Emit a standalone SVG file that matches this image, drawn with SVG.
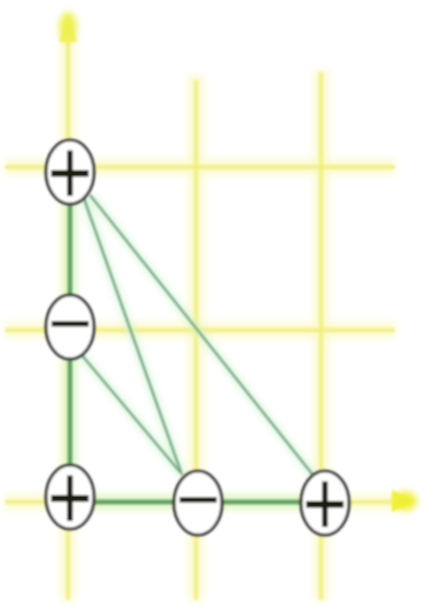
<svg xmlns="http://www.w3.org/2000/svg" width="433" height="610" viewBox="0 0 433 610">
<defs>
<style>
.grid{stroke:#f0ec70;stroke-width:4.5;fill:none;opacity:0.7}
.glow{stroke:#fbf9c4;stroke-width:16;fill:none;opacity:0.75}
.thick{stroke:#63a066;stroke-width:4.5;fill:none}
.thickglow{stroke:#c8f5c8;stroke-width:12;fill:none;opacity:0.7}
.thin{stroke:#78a886;stroke-width:2.5;fill:none}
.thinglow{stroke:#d2f5d2;stroke-width:8;fill:none;opacity:0.7}
.node ellipse{fill:#ffffff;stroke:#3a3a3a;stroke-width:3.2}
.node text{font-family:"Liberation Sans",Arial,sans-serif;font-size:76px;fill:#1a1a10;text-anchor:middle}
.node text.p{font-size:64px}
</style>
<filter id="soft" x="-20%" y="-20%" width="140%" height="140%"><feGaussianBlur stdDeviation="1.3"/></filter>
<filter id="softer" x="-20%" y="-20%" width="140%" height="140%"><feGaussianBlur stdDeviation="3.5"/></filter>
</defs>
<rect width="433" height="610" fill="#ffffff"/>
<g id="grid">
<g filter="url(#softer)">
<line class="glow" x1="68" y1="15" x2="68" y2="600"/>
<line class="glow" x1="196" y1="75" x2="196" y2="600"/>
<line class="glow" x1="321" y1="70" x2="321" y2="600"/>
<line class="glow" x1="5" y1="167" x2="395" y2="167"/>
<line class="glow" x1="5" y1="330" x2="395" y2="330"/>
<line class="glow" x1="5" y1="502" x2="410" y2="502"/>
<ellipse cx="405" cy="501" rx="12" ry="10" fill="#f0f040"/>
<ellipse cx="68" cy="27" rx="9" ry="15" fill="#eef050"/>
</g>
<g filter="url(#soft)">
<line class="grid" x1="68" y1="40" x2="68" y2="600"/>
<line class="grid" x1="196" y1="80" x2="196" y2="600"/>
<line class="grid" x1="321" y1="72" x2="321" y2="600"/>
<line class="grid" x1="5" y1="167" x2="395" y2="167"/>
<line class="grid" x1="5" y1="330" x2="395" y2="330"/>
<line class="grid" x1="5" y1="502" x2="392" y2="502"/>
<path d="M68,14 L59,42 L77,42 z" fill="#eef050" opacity="0.85"/>
<path d="M414,501 L392,490 L392,512 z" fill="#eef030" opacity="0.9"/>
</g>
</g>
<g id="connectors">
<g filter="url(#softer)">
<line class="thickglow" x1="70" y1="172" x2="70" y2="497"/>
<line class="thickglow" x1="70" y1="502" x2="325" y2="502"/>
<line class="thinglow" x1="82" y1="193" x2="182" y2="475"/>
<line class="thinglow" x1="90" y1="195" x2="313" y2="475"/>
<line class="thinglow" x1="80" y1="353" x2="180" y2="472"/>
</g>
<g filter="url(#soft)">
<line class="thick" x1="70" y1="172" x2="70" y2="497"/>
<line class="thick" x1="70" y1="502" x2="325" y2="502"/>
<line class="thin" x1="82" y1="193" x2="182" y2="475"/>
<line class="thin" x1="90" y1="195" x2="313" y2="475"/>
<line class="thin" x1="80" y1="353" x2="180" y2="472"/>
</g>
</g>
<g id="n1" class="node" filter="url(#soft)">
<ellipse cx="70" cy="172" rx="24" ry="32"/>
<text class="p" transform="translate(70,172) scale(1.2,1.45)" y="22">+</text>
</g>
<g id="n2" class="node" filter="url(#soft)">
<ellipse cx="70" cy="327" rx="24" ry="32"/>
<text transform="translate(70,327)" y="22">−</text>
</g>
<g id="n3" class="node" filter="url(#soft)">
<ellipse cx="70" cy="497" rx="24" ry="32"/>
<text class="p" transform="translate(70,497) scale(1.2,1.45)" y="22">+</text>
</g>
<g id="n4" class="node" filter="url(#soft)">
<ellipse cx="198" cy="503" rx="24" ry="32"/>
<text transform="translate(198,503)" y="22">−</text>
</g>
<g id="n5" class="node" filter="url(#soft)">
<ellipse cx="325" cy="503" rx="24" ry="32"/>
<text class="p" transform="translate(325,503) scale(1.2,1.45)" y="22">+</text>
</g>
</svg>
